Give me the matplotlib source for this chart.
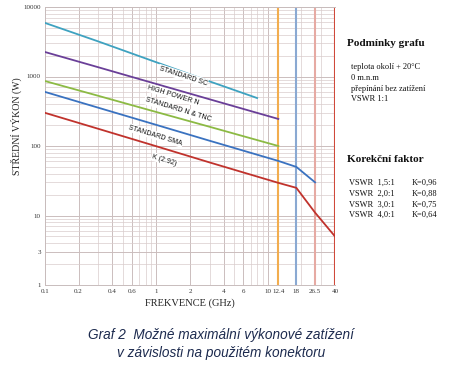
import matplotlib
matplotlib.use("Agg")
import matplotlib.pyplot as plt
from matplotlib.ticker import FixedLocator, NullFormatter, LogLocator

# ---------------- data ----------------
sc_f = [0.1, 0.3, 1, 3, 8]
sc_p = [5900, 3200, 1600, 850, 490]

hpn_f = [0.1, 0.3, 1, 3, 12.4]
hpn_p = [2250, 1360, 780, 470, 245]

ntnc_f = [0.1, 0.3, 1, 3, 12.4]
ntnc_p = [860, 528, 308, 189, 100]

sma_f = [0.1, 0.3, 1, 3, 12.4, 18, 26.5]
sma_p = [600, 356, 201, 119, 61, 50, 30]

k_f = [0.1, 0.3, 1, 3, 12.4, 18, 26.5, 40]
k_p = [300, 177, 99, 58, 29.5, 25, 11, 5]

band_edges = [12.4, 18, 26.5, 40]
x_ticks = [0.1, 0.2, 0.4, 0.6, 1, 2, 4, 6, 10, 12.4, 18, 26.5, 40]
x_ticklabels = ["0.1", "0.2", "0.4", "0.6", "1", "2", "4", "6", "10", "12.4", "18", "26.5", "40"]
y_ticks = [1, 3, 10, 100, 1000, 10000]
y_ticklabels = ["1", "3", "10", "100", "1000", "10000"]

series_names = ["STANDARD SC", "HIGH POWER N", "STANDARD N & TNC", "STANDARD SMA", "K (2.92)"]

conditions_title = "Podmínky grafu"
conditions = ["teplota okolí + 20°C", "0 m.n.m", "přepínání bez zatížení", "VSWR 1:1"]
corr_title = "Korekční faktor"
vswr = ["VSWR  1,5:1", "VSWR  2,0:1", "VSWR  3,0:1", "VSWR  4,0:1"]
kfac = ["K=0,96", "K=0,88", "K=0,75", "K=0,64"]

# ---------------- figure ----------------
W, H = 457, 382
fig = plt.figure(figsize=(W / 100, H / 100), dpi=100)
fig.patch.set_facecolor("white")
ax = fig.add_axes([45 / W, 1 - 285 / H, (335 - 45) / W, (285 - 7) / H])
ax.set_xscale("log")
ax.set_yscale("log")
ax.set_xlim(0.1, 40)
ax.set_ylim(1, 10000)

grid_c = "#d9cccc"
ax.xaxis.set_minor_locator(LogLocator(base=10, subs=range(2, 10)))
ax.yaxis.set_minor_locator(LogLocator(base=10, subs=range(2, 10)))
ax.grid(True, which="major", color="#cbbdbd", lw=0.7)
ax.grid(True, which="minor", color=grid_c, lw=0.5)
ax.set_axisbelow(True)

for s in ["top", "left", "bottom"]:
    ax.spines[s].set_color("#c8bcbc")
    ax.spines[s].set_linewidth(0.7)
ax.spines["right"].set_visible(False)

band_cols = ["#f2ad4e", "#8aa9d2", "#e6aaa3", "#d0493a"]
for f, c in zip(band_edges, band_cols):
    ax.axvline(f, color=c, lw=1.5, zorder=2)

line_cols = ["#3ea2c0", "#6a3f98", "#8cba44", "#3a72c0", "#c0322c"]
for fx, py, c in zip([sc_f, hpn_f, ntnc_f, sma_f, k_f],
                     [sc_p, hpn_p, ntnc_p, sma_p, k_p], line_cols):
    ax.plot(fx, py, color=c, lw=1.3, zorder=3)

# labels along lines
lab_pos = [(1.73, 1020, -18), (1.42, 540, -17), (1.56, 330, -17), (0.98, 142, -17), (1.18, 63, -17)]
for name, (fx, py, rot) in zip(series_names, lab_pos):
    ax.text(fx, py, name, fontsize=5.0, rotation=rot, ha="center", va="center",
            family="Liberation Sans", color="#111111", zorder=4,
            bbox=dict(boxstyle="square,pad=0.12", fc="white", ec="none"))

ax.xaxis.set_major_locator(FixedLocator(x_ticks))
ax.set_xticklabels(x_ticklabels)
ax.xaxis.set_minor_formatter(NullFormatter())
ax.yaxis.set_major_locator(FixedLocator(y_ticks))
ax.set_yticklabels(y_ticklabels)
ax.yaxis.set_minor_formatter(NullFormatter())
ax.tick_params(which="both", length=0, labelsize=5, colors="#333333", pad=3)
for lbl in ax.get_xticklabels() + ax.get_yticklabels():
    lbl.set_family("Liberation Serif")

ax.set_xlabel("FREKVENCE (GHz)", family="Liberation Serif", fontsize=7.5, color="#222222", labelpad=3)
ax.set_ylabel("STŘEDNÍ VÝKON (W)", family="Liberation Serif", fontsize=7.1, color="#222222")
ax.yaxis.set_label_coords(-0.08, 1 - (126 - 7) / 278)

# right side text
def px(x, y):
    return x / W, 1 - y / H

fig.text(*px(347, 43), conditions_title, family="Liberation Serif", weight="bold",
         fontsize=8, va="center", color="#111111")
for i, t in enumerate(conditions):
    fig.text(*px(351, 67 + 10.8 * i), t, family="Liberation Serif", fontsize=6,
             va="center", color="#111111")
fig.text(*px(347, 160), corr_title, family="Liberation Serif", weight="bold",
         fontsize=8, va="center", color="#111111")
for i, (a, b) in enumerate(zip(vswr, kfac)):
    fig.text(*px(349, 183 + 10.7 * i), a, family="Liberation Serif", fontsize=6,
             va="center", color="#111111")
    fig.text(*px(412, 183 + 10.7 * i), b, family="Liberation Serif", fontsize=6,
             va="center", color="#111111")

# caption
fig.text(*px(221, 335), "Graf 2  Možné maximální výkonové zatížení", family="Liberation Sans",
         style="italic", fontsize=9.8, ha="center", va="center", color="#1c2a4e")
fig.text(*px(221, 353), "v závislosti na použitém konektoru", family="Liberation Sans",
         style="italic", fontsize=9.8, ha="center", va="center", color="#1c2a4e")

fig.savefig("out.png", dpi=100, facecolor="white")
